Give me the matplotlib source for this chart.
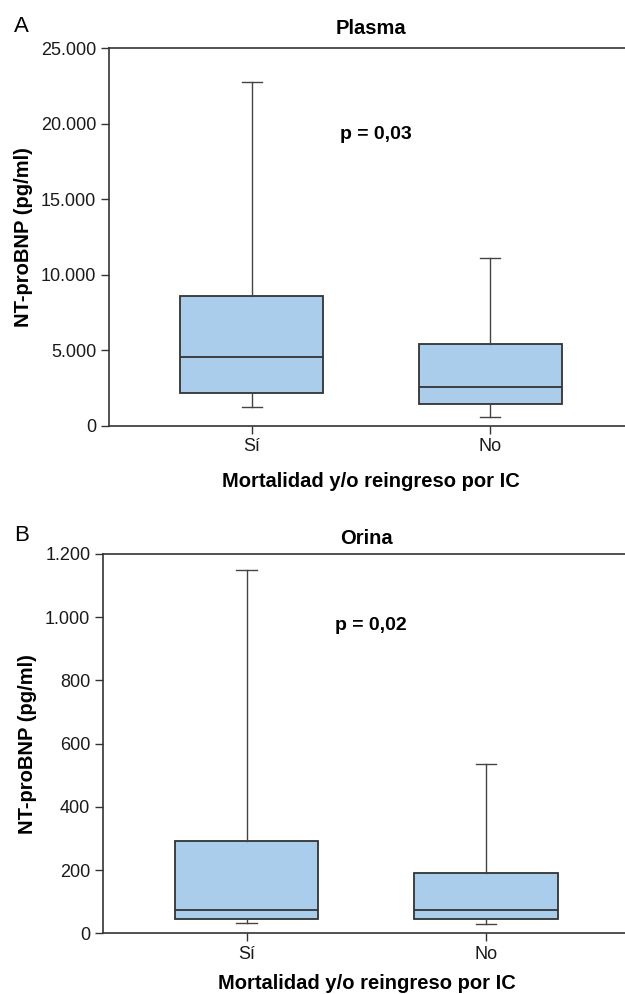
import matplotlib
matplotlib.use("Agg")
from matplotlib import pyplot as plt

plt.rcParams['font.family'] = ['Liberation Sans', 'DejaVu Sans']

groups = ['Sí', 'No']

# plasma (pg/ml): whisker low, q1, median, q3, whisker high
plasma_lo = [1260, 560]
plasma_q1 = [2150, 1420]
plasma_med = [4530, 2560]
plasma_q3 = [8610, 5390]
plasma_hi = [22790, 11090]

# orina (pg/ml)
orina_lo = [32, 28]
orina_q1 = [44, 44]
orina_med = [74, 74]
orina_q3 = [292, 190]
orina_hi = [1148, 535]

plasma_ticks = [0, 5000, 10000, 15000, 20000, 25000]
plasma_ticklabels = ['0', '5.000', '10.000', '15.000', '20.000', '25.000']
orina_ticks = [0, 200, 400, 600, 800, 1000, 1200]
orina_ticklabels = ['0', '200', '400', '600', '800', '1.000', '1.200']

edge = '#333333'
fill = '#abcdec'


def stats(lo, q1, med, q3, hi):
    out = []
    for i in range(len(lo)):
        out.append(dict(whislo=lo[i], q1=q1[i], med=med[i], q3=q3[i],
                        whishi=hi[i], fliers=[]))
    return out


def panel(ax, st, ticks, ticklabels, ymax, title, ptext, py, tpad, xpad):
    ax.bxp(st, positions=[1, 2], widths=0.6, patch_artist=True,
           showfliers=False, capwidths=0.085,
           boxprops=dict(facecolor=fill, edgecolor=edge, linewidth=1.3),
           medianprops=dict(color=edge, linewidth=1.3),
           whiskerprops=dict(color='#444444', linewidth=1.0),
           capprops=dict(color='#444444', linewidth=1.0))
    ax.set_xlim(0.4, 2.6)
    ax.set_ylim(0, ymax)
    ax.set_yticks(ticks)
    ax.set_yticklabels(ticklabels)
    ax.set_xticks([1, 2])
    ax.set_xticklabels(groups)
    ax.spines['right'].set_visible(False)
    for s in ['left', 'top', 'bottom']:
        ax.spines[s].set_color(edge)
        ax.spines[s].set_linewidth(1.2)
    ax.tick_params(axis='both', direction='out', length=6, width=1.0,
                   color=edge, labelsize=13, labelcolor='#1a1a1a', pad=3)
    ax.set_ylabel('NT-proBNP (pg/ml)', fontsize=14.5, fontweight='bold',
                  labelpad=6)
    ax.set_xlabel('Mortalidad y/o reingreso por IC', fontsize=14.5,
                  fontweight='bold', labelpad=xpad)
    ax.set_title(title, fontsize=14.5, fontweight='bold', pad=tpad)
    ax.text(1.52, py, ptext, fontsize=14, fontweight='bold', ha='center',
            va='center')


fig = plt.figure(figsize=(6.25, 9.94), dpi=100)
ax1 = fig.add_axes([0.174, 0.5717, 0.839, 0.3797])
ax2 = fig.add_axes([0.1645, 0.0611, 0.8435, 0.3816])

panel(ax1, stats(plasma_lo, plasma_q1, plasma_med, plasma_q3, plasma_hi),
      plasma_ticks, plasma_ticklabels, 25000, 'Plasma', 'p = 0,03', 19300,
      10, 12)
panel(ax2, stats(orina_lo, orina_q1, orina_med, orina_q3, orina_hi),
      orina_ticks, orina_ticklabels, 1200, 'Orina', 'p = 0,02', 975,
      7, 8)

fig.text(0.035, 0.973, 'A', fontsize=16, ha='center', va='center')
fig.text(0.035, 0.461, 'B', fontsize=16, ha='center', va='center')

fig.savefig('out.png', dpi=100)
